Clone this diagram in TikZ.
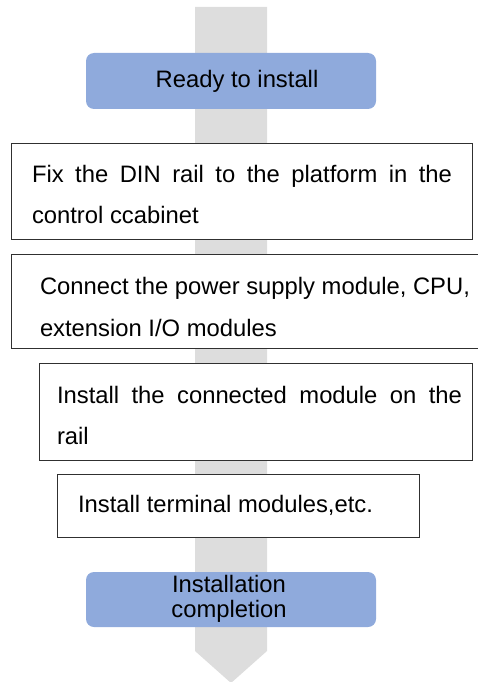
\documentclass[tikz,border=0pt]{standalone}
\usepackage{fontspec}
\setmainfont{Liberation Sans}
\definecolor{railgray}{HTML}{DDDDDD}
\definecolor{stepblue}{HTML}{8FAADC}
\definecolor{edgegray}{HTML}{303030}
\begin{document}
\begin{tikzpicture}[x=1pt,y=-1pt,
  every node/.style={inner sep=0pt, outer sep=0pt},
  stepbox/.style={draw=edgegray, line width=1pt, fill=white, rectangle, anchor=north west},
  endbox/.style={fill=stepblue, rounded corners=8pt, rectangle, anchor=north west},
  label/.style={font=\fontsize{23.8}{41}\selectfont, text=black, anchor=base west},
  clabel/.style={font=\fontsize{23.8}{41}\selectfont, text=black, anchor=base}]
\useasboundingbox (0,0) rectangle (478,682);
% flow arrow
\fill[railgray] (195,7) -- (267,7) -- (267,651) -- (231,683) -- (195,651) -- cycle;
% start
\node[endbox, minimum width=290pt, minimum height=56pt] (start) at (86,53) {};
\node[clabel] (startt) at (237,88) {Ready to install};
% step 1
\node[stepbox, minimum width=461pt, minimum height=96pt] (s1) at (11,143) {};
\node[label] (s1a) at (32,182) {\makebox[420pt][s]{Fix the DIN rail to the platform in the}};
\node[label] (s1b) at (32,223) {control ccabinet};
% step 2
\node[stepbox, minimum width=480pt, minimum height=94pt] (s2) at (11,254) {};
\node[label] (s2a) at (40,294) {Connect the power supply module, CPU,};
\node[label] (s2b) at (40,336) {extension I/O modules};
% step 3
\node[stepbox, minimum width=433pt, minimum height=97pt] (s3) at (39,363) {};
\node[label] (s3a) at (57,403) {\makebox[405pt][s]{Install the connected module on the}};
\node[label] (s3b) at (57,444) {rail};
% step 4
\node[stepbox, minimum width=362pt, minimum height=63pt] (s4) at (57,474) {};
\node[label] (s4a) at (78,512) {Install terminal modules,etc.};
% end
\node[endbox, minimum width=290pt, minimum height=55pt] (finish) at (86,572) {};
\node[clabel] (fina) at (229,592) {Installation};
\node[clabel] (finb) at (229,617) {completion};
\end{tikzpicture}
\end{document}
